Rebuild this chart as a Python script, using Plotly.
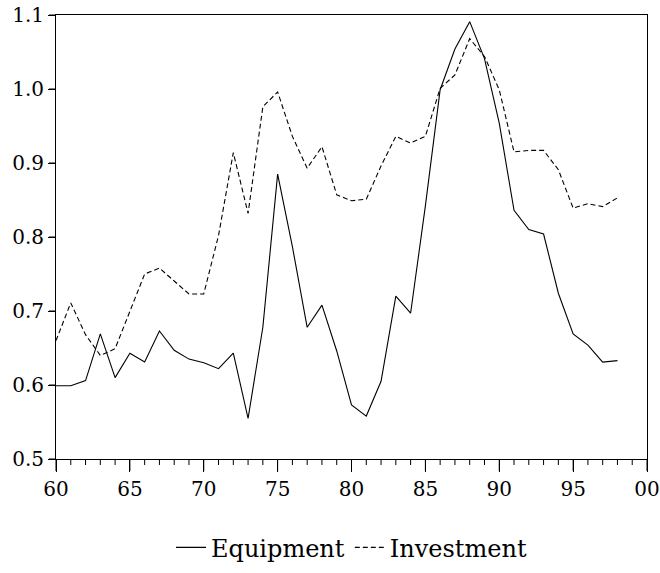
import plotly.graph_objects as go

# Annual series, 1960-1998
years = list(range(60, 99))

equipment = [
    0.599, 0.599, 0.606, 0.669, 0.610, 0.643, 0.631, 0.673, 0.647, 0.635,
    0.630, 0.622, 0.643, 0.555, 0.678, 0.885, 0.787, 0.678, 0.708, 0.646,
    0.573, 0.558, 0.605, 0.720, 0.697, 0.842, 0.999, 1.054, 1.091, 1.041,
    0.954, 0.836, 0.810, 0.804, 0.724, 0.669, 0.654, 0.631, 0.633,
]

investment = [
    0.660, 0.711, 0.668, 0.640, 0.649, 0.699, 0.750, 0.758, 0.740, 0.723,
    0.723, 0.802, 0.914, 0.832, 0.976, 0.996, 0.936, 0.893, 0.922, 0.857,
    0.849, 0.851, 0.896, 0.936, 0.927, 0.936, 1.001, 1.019, 1.068, 1.044,
    0.999, 0.915, 0.917, 0.917, 0.891, 0.839, 0.845, 0.841, 0.853,
]

x_tickvals = [60, 65, 70, 75, 80, 85, 90, 95, 100]
x_ticktext = ["60", "65", "70", "75", "80", "85", "90", "95", "00"]
x_minorvals = list(range(60, 101))
y_tickvals = [0.5, 0.6, 0.7, 0.8, 0.9, 1.0, 1.1]

X_RANGE = [60, 100]
Y_RANGE = [0.5, 1.1]

FONT = "DejaVu Serif"

fig = go.Figure()
fig.add_trace(go.Scatter(
    x=years, y=equipment, mode="lines", name="Equipment",
    line=dict(color="black", width=1.1),
))
fig.add_trace(go.Scatter(
    x=years, y=investment, mode="lines", name="Investment",
    line=dict(color="black", width=1.1, dash="5px,3px"),
))


def x_frac(v):
    return (v - X_RANGE[0]) / (X_RANGE[1] - X_RANGE[0])


def y_frac(v):
    return (v - Y_RANGE[0]) / (Y_RANGE[1] - Y_RANGE[0])


# Tick marks drawn as pixel-sized shapes anchored on the axes
tick_shapes = []
for v in x_minorvals:
    length = 12 if v in x_tickvals else 6
    tick_shapes.append(dict(
        type="line", xref="x domain", yref="y domain",
        x0=x_frac(v), x1=x_frac(v),
        ysizemode="pixel", yanchor=0, y0=0, y1=-length,
        line=dict(color="black", width=1), layer="above",
    ))
for v in y_tickvals:
    tick_shapes.append(dict(
        type="line", xref="x domain", yref="y domain",
        y0=y_frac(v), y1=y_frac(v),
        xsizemode="pixel", xanchor=0, x0=0, x1=-7,
        line=dict(color="black", width=1), layer="above",
    ))

fig.update_layout(
    template="none",
    width=660, height=573,
    margin=dict(l=56, r=13, t=15, b=114, autoexpand=False),
    paper_bgcolor="white", plot_bgcolor="white",
    font=dict(family=FONT, color="black", size=20),
    showlegend=True,
    legend=dict(
        orientation="h", x=0.5, xanchor="center",
        y=-0.2, yanchor="middle",
        font=dict(family=FONT, size=24, color="black"),
        bgcolor="rgba(0,0,0,0)",
    ),
    shapes=tick_shapes,
)

fig.update_xaxes(
    range=X_RANGE, automargin=False,
    tickmode="array", tickvals=x_tickvals, ticktext=x_ticktext,
    ticks="outside", ticklen=12, tickwidth=1, tickcolor="black",
    ticklabeloverflow="allow",
    showline=True, linecolor="black", linewidth=1, mirror=True,
    showgrid=False, zeroline=False,
)
fig.update_yaxes(
    range=Y_RANGE, automargin=False,
    tickmode="array", tickvals=y_tickvals, tickformat=".1f",
    ticks="outside", ticklen=7, tickwidth=1, tickcolor="black",
    ticklabeloverflow="allow",
    showline=True, linecolor="black", linewidth=1, mirror=True,
    showgrid=False, zeroline=False,
)

fig.write_html("out.html")
